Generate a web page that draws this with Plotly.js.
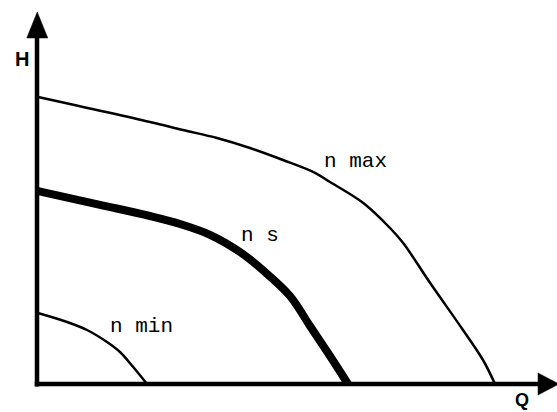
<!DOCTYPE html>
<html>
<head>
<meta charset="utf-8">
<script src="https://cdn.plot.ly/plotly-3.0.1.min.js"></script>
<style>
  html, body { margin: 0; padding: 0; background: #fff; }
  #chart { width: 557px; height: 412px; }
</style>
</head>
<body>
<div id="chart"></div>
<script>
// Pump curves H(Q) at different speeds (arbitrary units)
const Q_nmax = [0, 22.6, 29.2, 36, 42.6, 49.2, 55.6, 58.6, 65.2, 70.6, 73.2, 78.6, 85.2, 89.2, 91.6];
const H_nmax = [71.8, 65.5, 63.5, 61.5, 59, 56, 52.8, 50.5, 45.3, 39, 35.3, 25.3, 13.5, 6, 0];

const Q_ns = [0, 12.6, 22.6, 28.6, 34.6, 40.6, 45.6, 50.6, 54.6, 58.6, 62.2];
const H_ns = [48.3, 44.8, 42, 40, 37.3, 33, 28, 22, 14.5, 7, 0];

const Q_nmin = [0, 6, 10, 14, 16.6, 19.2, 22];
const H_nmin = [17.8, 15.5, 13.5, 10.5, 8, 4.3, 0];

const curveNames = ["n max", "n s", "n min"];
const labelQ = [63.6, 44.6, 20.8];
const labelH = [55.6, 37.1, 14.3];

const axisTitleX = "Q";
const axisTitleY = "H";

const traces = [
  { x: Q_nmax, y: H_nmax, mode: "lines", line: { color: "#000", width: 2.5, shape: "spline", smoothing: 1 }, name: curveNames[0] },
  { x: Q_ns, y: H_ns, mode: "lines", line: { color: "#000", width: 8, shape: "spline", smoothing: 1 }, name: curveNames[1] },
  { x: Q_nmin, y: H_nmin, mode: "lines", line: { color: "#000", width: 2.5, shape: "spline", smoothing: 1 }, name: curveNames[2] }
];

const annotations = curveNames.map((t, i) => ({
  x: labelQ[i], y: labelH[i], xref: "x", yref: "y", text: t, showarrow: false,
  font: { family: "Liberation Mono, Courier New, monospace", size: 21, color: "#000" },
  xanchor: "center", yanchor: "middle"
}));
annotations.push({
  x: -3, y: 81.3, xref: "x", yref: "y", text: "<b>" + axisTitleY + "</b>", showarrow: false,
  font: { family: "Liberation Sans, Arial, sans-serif", size: 20, color: "#000" },
  xanchor: "center", yanchor: "middle"
});
annotations.push({
  x: 97, y: -6.8, xref: "x", yref: "y", text: "<b>" + axisTitleX + "</b>", showarrow: false,
  font: { family: "Liberation Sans, Arial, sans-serif", size: 18, color: "#000" },
  xanchor: "center", yanchor: "bottom", borderpad: 0
});

const shapes = [
  // y axis line + arrowhead
  { type: "line", xref: "x", yref: "y", x0: 0, y0: -0.6, x1: 0, y1: 87, line: { color: "#000", width: 4.5 } },
  { type: "path", xref: "x", yref: "y", path: "M -2.05,86.5 L 2.15,86.5 L 0.05,93 Z", fillcolor: "#000", line: { color: "#000", width: 0.5 } },
  // x axis line + arrowhead
  { type: "line", xref: "x", yref: "y", x0: -0.45, y0: 0, x1: 100.6, y1: 0, line: { color: "#000", width: 4.5 } },
  { type: "path", xref: "x", yref: "y", path: "M 100.2,2.75 L 100.2,-2.75 L 104.4,0 Z", fillcolor: "#000", line: { color: "#000", width: 0.5 } }
];

const layout = {
  width: 557, height: 412,
  margin: { l: 0, r: 0, t: 0, b: 0 },
  paper_bgcolor: "#fff", plot_bgcolor: "#fff",
  showlegend: false,
  xaxis: { range: [-7.4, 104], visible: false, fixedrange: true },
  yaxis: { range: [-7, 96], visible: false, fixedrange: true },
  annotations: annotations,
  shapes: shapes
};

Plotly.newPlot("chart", traces, layout, { displayModeBar: false, staticPlot: true });
</script>
</body>
</html>
